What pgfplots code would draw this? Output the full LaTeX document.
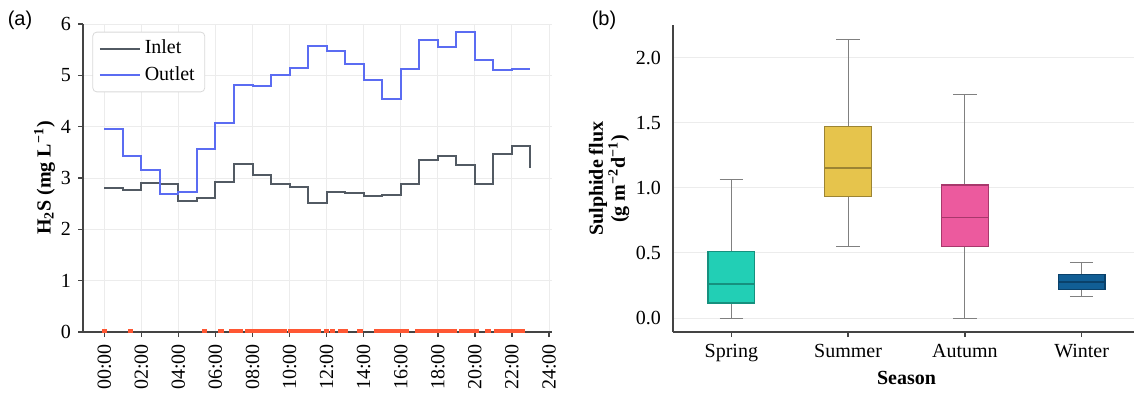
\documentclass[border=0pt]{standalone}
\usepackage{fontspec}
\setmainfont{Liberation Serif}
\newfontfamily\sansf{Liberation Sans}
\usepackage{pgfplots}
\usepackage{pgfplotstable}
\pgfplotsset{compat=1.18}
\usepgfplotslibrary{statistics}

\definecolor{inletc}{HTML}{525A63}
\definecolor{outletc}{HTML}{5B6CF2}
\definecolor{markc}{HTML}{FF5733}
\definecolor{gridc}{HTML}{ECECEC}
\definecolor{spinec}{HTML}{444444}
\definecolor{springf}{HTML}{22CFB5}
\definecolor{springd}{HTML}{16907E}
\definecolor{summerf}{HTML}{E6C44C}
\definecolor{summerd}{HTML}{9C8433}
\definecolor{autumnf}{HTML}{EC5A9E}
\definecolor{autumnd}{HTML}{A8386C}
\definecolor{winterf}{HTML}{115E95}
\definecolor{winterd}{HTML}{0A416A}

\pgfplotstableread{
h inlet outlet
0 2.80 3.95
1 2.77 3.43
2 2.90 3.15
3 2.88 2.68
4 2.56 2.72
5 2.61 3.57
6 2.92 4.08
7 3.28 4.82
8 3.05 4.80
9 2.88 5.00
10 2.83 5.14
11 2.52 5.58
12 2.72 5.48
13 2.70 5.23
14 2.64 4.91
15 2.67 4.54
16 2.88 5.13
17 3.35 5.68
18 3.43 5.56
19 3.25 5.85
20 2.88 5.29
21 3.46 5.10
22 3.63 5.13
23 3.19 5.13
}\hourly

\pgfplotstableread{
t y
0.0 0
1.4 0
5.4 0
6.3 0
6.85 0
7.1 0
7.35 0
7.75 0
8.0 0
8.25 0
8.5 0
8.7 0
8.95 0
9.2 0
9.45 0
9.7 0
10.05 0
10.3 0
10.55 0
10.8 0
11.05 0
11.3 0
11.55 0
12.0 0
12.3 0
12.75 0
13.0 0
13.8 0
14.7 0
14.95 0
15.2 0
15.45 0
15.7 0
16.0 0
16.3 0
16.9 0
17.15 0
17.4 0
17.65 0
17.9 0
18.15 0
18.4 0
18.65 0
18.9 0
19.3 0
19.55 0
19.8 0
20.05 0
20.7 0
21.15 0
21.45 0
21.7 0
21.9 0
22.15 0
22.4 0
22.55 0
}\events

\begin{document}
\begin{tikzpicture}
\path[use as bounding box] (0pt,0pt) rectangle (567pt,196pt);

\node[font=\sansf\fontsize{10}{12}\selectfont] at (10pt,186pt) {(a)};
\node[font=\sansf\fontsize{10}{12}\selectfont] at (302pt,186pt) {(b)};

\begin{axis}[
  at={(41.5pt,30pt)}, anchor=south west,
  scale only axis, width=234.4pt, height=154pt,
  xmin=-1.15, xmax=24.15, ymin=0, ymax=6,
  axis x line*=bottom, axis y line*=left,
  axis line style={spinec, line width=0.8pt},
  every tick/.style={spinec, line width=0.7pt},
  tick align=outside, major tick length=2.5pt,
  xtick={0,2,...,24},
  xticklabels={00:00,02:00,04:00,06:00,08:00,10:00,12:00,14:00,16:00,18:00,20:00,22:00,24:00},
  xticklabel style={rotate=90, anchor=east, font=\fontsize{10}{12}\selectfont},
  ytick={0,1,2,3,4,5,6},
  yticklabels={0,1,2,3,4,5,6},
  yticklabel style={font=\fontsize{10}{12}\selectfont},
  grid=major, major grid style={gridc, line width=0.5pt},
  ylabel={\textbf{H\textsubscript{2}S (mg L\textsuperscript{−1})}},
  ylabel style={at={(axis description cs:-0.082,0.5)}, anchor=center, font=\fontsize{10}{12}\selectfont},
  clip marker paths=true,
  legend style={at={(axis description cs:0.02,0.975)}, anchor=north west,
    draw=black!15, rounded corners=2pt, fill=white,
    font=\fontsize{10}{12}\selectfont, inner xsep=3pt, inner ysep=2pt, row sep=1pt},
  legend cell align=left,
  legend image code/.code={\draw[#1] (0pt,0pt) -- (20pt,0pt);},
]
\addplot[const plot, inletc, line width=1pt] table[x=h, y=inlet] {\hourly};
\addlegendentry{Inlet}
\addplot[const plot, outletc, line width=1pt] table[x=h, y=outlet] {\hourly};
\addlegendentry{Outlet}
\addplot[only marks, mark=square*, mark size=1.1pt, color=markc, forget plot] table[x=t, y=y] {\events};
\end{axis}

\begin{axis}[
  at={(336.5pt,30pt)}, anchor=south west,
  scale only axis, width=233.5pt, height=153.3pt,
  xmin=-0.5, xmax=3.5, ymin=-0.107, ymax=2.247,
  axis x line*=bottom, axis y line*=left,
  axis line style={spinec, line width=0.8pt},
  tick align=outside, major tick length=2.5pt,
  xtick={0,1,2,3},
  xticklabels={Spring,Summer,Autumn,Winter},
  xtick style={spinec, line width=0.7pt},
  ytick style={draw=none},
  xticklabel style={font=\fontsize{10}{12}\selectfont},
  ytick={0,0.5,1,1.5,2},
  yticklabels={0.0,0.5,1.0,1.5,2.0},
  yticklabel style={font=\fontsize{10}{12}\selectfont},
  ymajorgrids, major grid style={gridc, line width=0.5pt},
  xlabel={\textbf{Season}},
  xlabel style={font=\fontsize{10}{12}\selectfont, at={(axis description cs:0.5,-0.15)}, anchor=center},
  ylabel={\textbf{Sulphide flux}\\\textbf{(g m\textsuperscript{−2}d\textsuperscript{−1})}},
  ylabel style={align=center, at={(axis description cs:-0.137,0.5)}, anchor=center, font=\fontsize{10}{11}\selectfont},
  boxplot/draw direction=y,
  boxplot/box extend=0.4,
  boxplot/whisker extend=0.2,
]
\addplot[draw=black!50, line width=0.5pt,
  boxplot prepared={draw position=0, lower whisker=0.0, lower quartile=0.115, median=0.263, upper quartile=0.512, upper whisker=1.066},
  boxplot/every box/.style={fill=springf, draw=springd, line width=0.6pt},
  boxplot/every median/.style={springd, line width=0.9pt}] coordinates {};
\addplot[draw=black!50, line width=0.5pt,
  boxplot prepared={draw position=1, lower whisker=0.548, lower quartile=0.933, median=1.150, upper quartile=1.471, upper whisker=2.136},
  boxplot/every box/.style={fill=summerf, draw=summerd, line width=0.6pt},
  boxplot/every median/.style={summerd, line width=0.9pt}] coordinates {};
\addplot[draw=black!50, line width=0.5pt,
  boxplot prepared={draw position=2, lower whisker=0.0, lower quartile=0.550, median=0.772, upper quartile=1.022, upper whisker=1.716},
  boxplot/every box/.style={fill=autumnf, draw=autumnd, line width=0.6pt},
  boxplot/every median/.style={autumnd, line width=0.9pt}] coordinates {};
\addplot[draw=black!50, line width=0.5pt,
  boxplot prepared={draw position=3, lower whisker=0.166, lower quartile=0.217, median=0.275, upper quartile=0.334, upper whisker=0.428},
  boxplot/every box/.style={fill=winterf, draw=winterd, line width=0.6pt},
  boxplot/every median/.style={winterd, line width=0.9pt}] coordinates {};
\end{axis}
\end{tikzpicture}
\end{document}
